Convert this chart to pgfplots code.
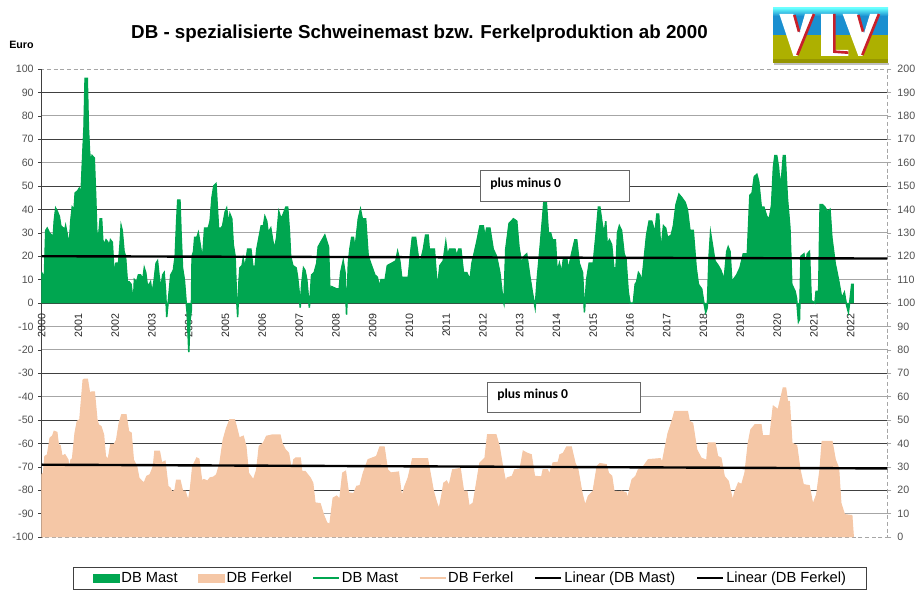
\documentclass[border=0pt]{standalone}
\usepackage{fontspec}
\setmainfont{Liberation Sans}
\newfontfamily\boxfont{Carlito}
\usepackage{pgfplots}
\usepackage{pgfplotstable}
\pgfplotsset{compat=1.18}
\definecolor{mastgreen}{HTML}{00A650}
\definecolor{ferkelpeach}{HTML}{F5C7A6}
\definecolor{griddark}{HTML}{404040}
\definecolor{gridgray}{HTML}{A6A6A6}
\definecolor{ticktext}{HTML}{505050}
\definecolor{logored}{HTML}{C8202A}
\pgfplotstableread[row sep=\\]{x y\\
2000.00 0\\2000.00 13\\2000.03 12\\2000.07 10\\2000.11 31\\2000.15 32\\2000.21 30\\2000.27 29\\2000.30 25\\2000.34 35\\2000.38 40.5\\2000.43 39\\2000.48 37\\2000.52 33\\2000.59 32\\2000.61 30\\2000.65 33\\2000.71 28\\2000.74 22\\2000.79 35\\2000.83 41\\2000.88 40\\2000.91 47\\2000.98 48\\2001.02 49\\2001.07 47\\2001.12 65\\2001.15 75\\2001.18 96\\2001.24 96\\2001.27 75\\2001.30 65\\2001.33 60\\2001.37 63\\2001.43 62\\2001.47 45\\2001.50 30\\2001.55 29\\2001.59 36\\2001.63 36\\2001.66 27\\2001.70 25\\2001.75 27\\2001.80 26\\2001.83 24\\2001.87 27\\2001.92 26\\2001.96 15\\2001.99 14\\2002.02 17\\2002.09 17\\2002.13 25\\2002.16 33\\2002.19 31\\2002.24 22\\2002.28 20\\2002.33 9\\2002.38 9\\2002.43 8\\2002.47 3\\2002.50 2\\2002.52 10\\2002.58 9\\2002.63 12\\2002.69 12\\2002.75 10\\2002.79 15\\2002.83 13\\2002.87 8\\2002.93 8\\2002.96 9\\2003.00 4\\2003.06 10\\2003.11 17\\2003.15 18\\2003.19 12\\2003.24 6\\2003.29 12\\2003.33 13\\2003.37 5\\2003.40 -6\\2003.45 2\\2003.51 12\\2003.58 14\\2003.63 20\\2003.67 35\\2003.70 44\\2003.76 44\\2003.79 30\\2003.83 15\\2003.88 10\\2003.93 0\\2003.96 -5\\2004.00 -21\\2004.03 -8\\2004.07 -3\\2004.09 20\\2004.13 22\\2004.16 28\\2004.22 28\\2004.26 30\\2004.31 25\\2004.34 22\\2004.38 20\\2004.43 32\\2004.53 32\\2004.58 35\\2004.63 45\\2004.68 50\\2004.74 51\\2004.78 40\\2004.81 32\\2004.88 32\\2004.92 33\\2004.99 39\\2005.03 40.5\\2005.09 33\\2005.12 38\\2005.17 36\\2005.21 25\\2005.26 20\\2005.30 2\\2005.33 -6\\2005.36 8\\2005.39 15\\2005.45 16\\2005.48 19\\2005.53 15\\2005.60 23\\2005.69 23\\2005.74 16\\2005.80 15\\2005.85 23\\2005.91 28\\2005.97 33\\2006.03 33\\2006.07 37\\2006.12 35\\2006.16 30\\2006.23 32\\2006.28 27\\2006.33 23\\2006.39 28\\2006.45 39\\2006.51 36\\2006.57 38\\2006.64 41\\2006.69 41\\2006.74 30\\2006.77 20\\2006.83 16\\2006.92 15\\2006.96 11\\2007.00 5\\2007.03 -2\\2007.07 8\\2007.12 15\\2007.16 14\\2007.21 10\\2007.25 3\\2007.28 -2\\2007.34 12\\2007.41 13\\2007.48 17\\2007.52 24\\2007.59 26\\2007.70 29\\2007.80 24\\2007.84 5\\2007.89 7\\2008.02 6\\2008.09 6\\2008.13 13\\2008.20 18\\2008.25 13\\2008.29 -5\\2008.34 17\\2008.38 23\\2008.43 28\\2008.48 28\\2008.52 23\\2008.61 36\\2008.67 40\\2008.72 36\\2008.81 36\\2008.88 20\\2008.97 16\\2009.06 12\\2009.13 11\\2009.18 7\\2009.23 10\\2009.34 10\\2009.40 16\\2009.52 17\\2009.63 18\\2009.68 22\\2009.74 18\\2009.79 11\\2009.85 11\\2009.97 11\\2010.03 21\\2010.08 28\\2010.17 28\\2010.24 20\\2010.29 17\\2010.38 23\\2010.44 29\\2010.51 29\\2010.54 23\\2010.68 23\\2010.76 6\\2010.83 16\\2010.92 18\\2010.99 26\\2011.04 20\\2011.09 23\\2011.24 23\\2011.29 20\\2011.34 23\\2011.40 23\\2011.47 13\\2011.56 13\\2011.65 10\\2011.70 17\\2011.83 26\\2011.92 33\\2012.01 33\\2012.06 28\\2012.10 32\\2012.19 32\\2012.28 23\\2012.37 20\\2012.46 13\\2012.54 2\\2012.57 0\\2012.62 23\\2012.71 34\\2012.83 36\\2012.92 35\\2012.98 24\\2013.05 17\\2013.12 20\\2013.19 21\\2013.28 11\\2013.35 4\\2013.42 -2\\2013.48 11\\2013.55 23\\2013.62 36\\2013.66 44\\2013.72 44\\2013.78 30\\2013.84 30\\2013.89 27\\2013.97 27\\2014.02 13\\2014.08 17\\2014.14 13\\2014.19 19\\2014.28 19\\2014.32 14\\2014.41 21\\2014.50 27\\2014.55 27\\2014.62 17\\2014.71 13\\2014.76 -4\\2014.82 10\\2014.89 17\\2015.00 17\\2015.08 30\\2015.14 41\\2015.18 41\\2015.25 33\\2015.30 30\\2015.34 35\\2015.38 25\\2015.44 27\\2015.50 25\\2015.56 15\\2015.62 15\\2015.66 30\\2015.71 33\\2015.77 31\\2015.84 21\\2015.89 19\\2015.95 5\\2016.00 0\\2016.09 0\\2016.14 8\\2016.18 9\\2016.23 13\\2016.27 12\\2016.32 9\\2016.36 15\\2016.45 29\\2016.52 35\\2016.59 35\\2016.68 30\\2016.73 38\\2016.78 38\\2016.84 22\\2016.91 33\\2016.97 32\\2017.02 28\\2017.12 29\\2017.18 33\\2017.25 42\\2017.33 46.5\\2017.41 45\\2017.50 43\\2017.56 40\\2017.63 31\\2017.72 31\\2017.80 15\\2017.86 8\\2017.95 6\\2018.01 0\\2018.06 -4\\2018.10 -2\\2018.15 20\\2018.19 30\\2018.24 25\\2018.31 18\\2018.40 16\\2018.47 14\\2018.56 10\\2018.63 22\\2018.67 24\\2018.72 22\\2018.77 9\\2018.81 10\\2018.90 12\\2018.99 15\\2019.08 21\\2019.19 21\\2019.26 46\\2019.32 47\\2019.38 54\\2019.45 55\\2019.50 52\\2019.57 41\\2019.64 41\\2019.72 37\\2019.79 36\\2019.85 42\\2019.90 58\\2019.94 63\\2019.99 63\\2020.04 58\\2020.08 50\\2020.13 55\\2020.17 63\\2020.22 63\\2020.28 45\\2020.35 32\\2020.40 8\\2020.49 5\\2020.53 2\\2020.58 -8\\2020.61 -7\\2020.65 20\\2020.73 21\\2020.78 15\\2020.82 21\\2020.88 22\\2020.93 1\\2021.03 0\\2021.06 5\\2021.13 5\\2021.17 42\\2021.24 42\\2021.30 41\\2021.37 39\\2021.44 40\\2021.49 28\\2021.58 17\\2021.67 10\\2021.76 2\\2021.83 4.5\\2021.89 -1\\2021.94 -4\\2021.98 1\\2022.03 8\\2022.07 8\\2022.07 0\\
}\mastdata
\pgfplotstableread[row sep=\\]{x y\\
2000.00 -100\\2000.00 -73.4\\2000.05 -72.7\\2000.09 -65.6\\2000.16 -64.9\\2000.23 -57.8\\2000.30 -56.8\\2000.34 -54.9\\2000.41 -55.3\\2000.45 -60.6\\2000.50 -61\\2000.55 -65.6\\2000.63 -64.9\\2000.71 -67\\2000.74 -71.3\\2000.80 -67\\2000.84 -66.6\\2000.91 -55.6\\2000.97 -50.6\\2001.04 -49.9\\2001.13 -32.9\\2001.16 -32.6\\2001.24 -32.6\\2001.30 -38.5\\2001.36 -38.1\\2001.43 -38.1\\2001.50 -49.9\\2001.54 -52.1\\2001.61 -52.8\\2001.68 -56.3\\2001.73 -65.6\\2001.81 -67\\2001.88 -60.6\\2001.97 -60.6\\2002.04 -58.5\\2002.11 -51.4\\2002.18 -47.8\\2002.29 -47.8\\2002.36 -54.9\\2002.43 -55.6\\2002.49 -67\\2002.58 -69.8\\2002.64 -74.8\\2002.72 -76.2\\2002.79 -77\\2002.86 -74.1\\2002.95 -73.4\\2003.04 -69.8\\2003.08 -63.4\\2003.20 -63.4\\2003.26 -68.4\\2003.35 -67.7\\2003.43 -78.4\\2003.49 -79.1\\2003.55 -81.2\\2003.63 -79.8\\2003.67 -75.8\\2003.76 -75.8\\2003.83 -80.5\\2003.90 -80.5\\2003.94 -82.6\\2003.99 -84.8\\2004.05 -79.1\\2004.11 -69.8\\2004.22 -66.3\\2004.27 -66.7\\2004.35 -76.2\\2004.41 -75.5\\2004.51 -76.2\\2004.58 -74.8\\2004.67 -74.5\\2004.76 -73.4\\2004.85 -68.4\\2004.94 -58.5\\2005.03 -53.5\\2005.12 -49.9\\2005.24 -49.9\\2005.29 -52.8\\2005.37 -57.8\\2005.48 -57\\2005.55 -61.3\\2005.62 -72.7\\2005.76 -75.8\\2005.85 -71.3\\2005.92 -61.3\\2006.03 -59.9\\2006.12 -57\\2006.26 -56.5\\2006.48 -56.5\\2006.53 -59.9\\2006.62 -62.7\\2006.71 -64.2\\2006.80 -72.7\\2006.86 -67\\2006.91 -66.3\\2007.03 -66.3\\2007.07 -72\\2007.16 -72\\2007.30 -74.8\\2007.37 -77\\2007.43 -85.5\\2007.57 -85.8\\2007.66 -90.5\\2007.75 -94\\2007.84 -94.7\\2007.93 -83.4\\2008.02 -82.6\\2008.11 -84.1\\2008.19 -72.7\\2008.26 -72\\2008.34 -81.2\\2008.49 -81.5\\2008.57 -78.4\\2008.66 -78.1\\2008.75 -72.7\\2008.88 -67\\2009.11 -65.6\\2009.20 -61.6\\2009.31 -61.6\\2009.40 -71.3\\2009.49 -72.7\\2009.70 -72.3\\2009.79 -83.4\\2009.88 -78.4\\2009.97 -74.8\\2010.09 -66.6\\2010.49 -66.6\\2010.56 -72.7\\2010.65 -80.5\\2010.74 -85.5\\2010.81 -88.3\\2010.88 -82.6\\2010.94 -77\\2011.01 -76.2\\2011.08 -78.4\\2011.18 -71.3\\2011.38 -70.8\\2011.47 -80.5\\2011.56 -80.5\\2011.62 -86.9\\2011.74 -85.5\\2011.83 -77\\2011.92 -68.4\\2012.06 -66.3\\2012.13 -56.3\\2012.35 -56.3\\2012.44 -61.3\\2012.53 -69.8\\2012.63 -77.7\\2012.66 -74.8\\2012.80 -74.1\\2012.87 -71.3\\2013.01 -71.3\\2013.10 -63.4\\2013.19 -64.2\\2013.31 -64.9\\2013.40 -74.1\\2013.60 -74.4\\2013.64 -71.3\\2013.75 -71.3\\2013.81 -73.4\\2013.91 -68.4\\2014.05 -68.1\\2014.10 -64.9\\2014.19 -64.2\\2014.28 -61.6\\2014.40 -61.6\\2014.50 -68.4\\2014.58 -71.3\\2014.69 -81.2\\2014.78 -86.9\\2014.87 -82.6\\2015.00 -80.5\\2015.11 -69.8\\2015.18 -68.7\\2015.35 -69.1\\2015.41 -72.7\\2015.50 -74.1\\2015.56 -80.5\\2015.73 -80.8\\2015.77 -80.5\\2015.82 -80.8\\2015.89 -81.2\\2015.94 -84.1\\2016.00 -79.1\\2016.06 -75.5\\2016.16 -74.1\\2016.23 -71.3\\2016.36 -70.1\\2016.50 -67\\2016.82 -66.6\\2016.88 -68.4\\2016.95 -62.7\\2017.04 -55.6\\2017.13 -51.4\\2017.22 -46.4\\2017.56 -46.4\\2017.61 -50.6\\2017.70 -51.4\\2017.81 -62.7\\2017.93 -66.3\\2018.09 -67.4\\2018.13 -59.9\\2018.31 -59.9\\2018.38 -65.6\\2018.47 -66.3\\2018.56 -74.1\\2018.67 -76.2\\2018.74 -81.2\\2018.79 -84.8\\2018.86 -80.5\\2018.95 -77\\2019.04 -77.7\\2019.13 -72.7\\2019.22 -59.9\\2019.29 -54.2\\2019.40 -52.1\\2019.56 -52.1\\2019.60 -56.8\\2019.81 -56.8\\2019.90 -44.2\\2020.03 -45.7\\2020.17 -36.4\\2020.23 -36.4\\2020.28 -42.1\\2020.33 -42.1\\2020.40 -59.9\\2020.53 -61\\2020.62 -71.3\\2020.71 -77.7\\2020.87 -78.1\\2020.97 -86.5\\2021.08 -81.9\\2021.17 -71.3\\2021.23 -59.2\\2021.49 -59.2\\2021.58 -67\\2021.67 -70.6\\2021.73 -85.5\\2021.83 -90.5\\2022.03 -90.9\\2022.07 -100\\
}\ferkeldata
\begin{document}
\begin{tikzpicture}
% page frame: 922x592 reference pixels at .75pt
\path[use as bounding box] (0,0) rectangle (691.5pt,-444pt);
% grid
\begin{axis}[
  at={(31.275pt,-402.75pt)},anchor=south west,scale only axis,width=634.275pt,height=351pt,
  xmin=2000,xmax=2023,ymin=-100,ymax=100,
  axis line style={draw=none},xtick=\empty,
  ytick={90,70,50,40,-30,-50,-60,-80},
  extra y ticks={80,60,30,10,-10,-20,-40,-90},
  yticklabels={},extra y tick labels={},
  tick style={draw=none},
  ymajorgrids,
  grid style={griddark,line width=.45pt},
  extra y tick style={grid=major,grid style={gridgray,line width=.8pt}},
]
\end{axis}
% right-hand scale and dashed frame
\begin{axis}[
  at={(31.275pt,-402.75pt)},anchor=south west,scale only axis,width=634.275pt,height=351pt,
  xmin=2000,xmax=2023,ymin=0,ymax=200,
  axis line style={gridgray,densely dashed,line width=.6pt},
  xtick=\empty,ytick={0,10,...,200},ytick pos=right,
  tick align=outside,major tick length=3pt,
  y tick style={gridgray,solid},
  yticklabel style={font=\fontsize{8}{9}\selectfont,text=ticktext,xshift=1pt},
  /pgf/number format/assume math mode=true,
]
\end{axis}
% main axis
\begin{axis}[
  at={(31.275pt,-402.75pt)},anchor=south west,scale only axis,width=634.275pt,height=351pt,
  xmin=2000,xmax=2023,ymin=-100,ymax=100,
  axis x line=middle,axis y line=left,
  axis line style={-,griddark,line width=.6pt},
  hide obscured x ticks=false,hide obscured y ticks=false,
  xtick={2000,2001,...,2022},
  ytick={-100,-90,...,100},
  x tick style={draw=none},
  y tick style={griddark},
  tick align=outside,major tick length=2.5pt,
  xticklabel style={rotate=90,anchor=east,font=\fontsize{8}{9}\selectfont,text=black!85,xshift=-2.25pt},
  yticklabel style={font=\fontsize{8}{9}\selectfont,text=ticktext,xshift=0pt},
  /pgf/number format/1000 sep={},
  /pgf/number format/assume math mode=true,
  legend columns=6,
  legend style={at={(axis description cs:0.5065,-0.0876)},anchor=center,
    draw=griddark,line width=.6pt,fill=white,inner xsep=14.7pt,inner ysep=1.5pt,
    nodes={inner xsep=.6pt},
    font=\fontsize{11}{13}\selectfont,
    /tikz/every even column/.append style={column sep=15pt},
    /tikz/every odd column/.append style={column sep=.75pt},
  },
  legend cell align=left,
  legend image code/.code={\draw[#1] (0pt,0pt)--(19.5pt,0pt);},
]
\addplot[draw=mastgreen,fill=mastgreen,line width=.3pt,
  legend image code/.code={\fill[mastgreen] (0pt,-3pt) rectangle (19.5pt,3pt);}]
  table[x=x,y=y]{\mastdata} -- cycle;
\addlegendentry{DB Mast}
\addplot[draw=ferkelpeach,fill=ferkelpeach,line width=.3pt,
  legend image code/.code={\fill[ferkelpeach] (0pt,-3pt) rectangle (19.5pt,3pt);}]
  table[x=x,y=y]{\ferkeldata} -- cycle;
\addlegendentry{DB Ferkel}
\addplot[mastgreen,line width=1.1pt] table[x=x,y=y]{\mastdata};
\addlegendentry{DB Mast}
\addplot[ferkelpeach,line width=1.1pt] table[x=x,y=y]{\ferkeldata};
\addlegendentry{DB Ferkel}
\addplot[black,line width=1.8pt] coordinates {(2000,20.0) (2023,19.0)};
\addlegendentry{Linear (DB Mast)}
\addplot[black,line width=1.8pt] coordinates {(2000,-69.1) (2023,-70.7)};
\addlegendentry{Linear (DB Ferkel)}
\end{axis}
\begin{scope}[x=.75pt,y=-.75pt]
\node[font=\fontsize{14.07}{16}\selectfont\bfseries] at (419.5,34) {DB - spezialisierte Schweinemast bzw. Ferkelproduktion ab 2000};
\node[font=\fontsize{8}{9}\selectfont\bfseries,anchor=west,inner sep=0pt] at (9,45) {Euro};
\draw[griddark!80,fill=white,line width=.6pt] (480,170) rectangle (629,201);
\node[font=\boxfont\bfseries\fontsize{10.2}{12}\selectfont,anchor=west,inner sep=0pt] at (490,184) {plus minus 0};
\draw[griddark!80,fill=white,line width=.6pt] (487,382) rectangle (640.7,412.7);
\node[font=\boxfont\bfseries\fontsize{10.2}{12}\selectfont,anchor=west,inner sep=0pt] at (497,395) {plus minus 0};
% logo
\fill[black!25] (774,63) rectangle (889,65);
\fill[top color=cyan!60!white,bottom color={rgb,255:red,26;green,143;blue,208}] (773,8) rectangle (888,16);
\fill[color={rgb,255:red,26;green,143;blue,208}] (773,16) rectangle (888,35);
\fill[color={rgb,255:red,173;green,176;blue,0}] (773,35) rectangle (888,59);
\fill[color={rgb,255:red,150;green,150;blue,0}] (773,59) rectangle (888,63);
\begin{scope}[shift={(740,0)},x=.25pt,y=-.25pt]
\fill[white] (118,42)--(160,42)--(178,100)--(195,42)--(225,42)--(172,168)--(160,168)--cycle;
\draw[logored,line width=2pt] (222,42)--(172,165) (163,45)--(177,95);
\fill[white] (243,42)--(282,42)--(282,150)--(325,150)--(325,168)--(243,168)--cycle;
\draw[logored,line width=2pt] (283,42)--(283,155)--(325,158);
\fill[white] (308,42)--(352,42)--(372,100)--(390,42)--(420,42)--(367,168)--(355,168)--cycle;
\draw[logored,line width=2pt] (417,42)--(367,165) (355,45)--(369,95);
\end{scope}
\end{scope}
\end{tikzpicture}
\end{document}
